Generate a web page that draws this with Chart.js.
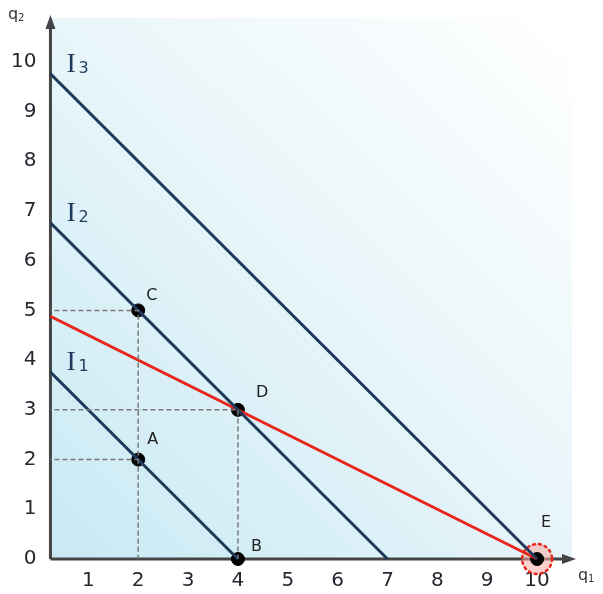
<!DOCTYPE html>
<html lang="en">
<head>
    <meta charset="UTF-8">
    <title>Indifference curves</title>
    <script src="https://cdn.jsdelivr.net/npm/chart.js"></script>
    <style>
        html, body { margin: 0; padding: 0; background: #fff; }
        #wrap { width: 603px; height: 594px; }
    </style>
</head>
<body>
    <div id="wrap"><canvas id="chart"></canvas></div>

    <script>
        // indifference lines q1 + q2 = k
        const indiffLevels = [4, 7, 10];
        const indiffNames = ['1', '2', '3'];
        // budget line from (0,5) to (10,0)
        const budgetLine = [{x: 0, y: 5}, {x: 10, y: 0}];
        // marked points
        const pointNames = ['A', 'B', 'C', 'D', 'E'];
        const pointX = [2, 4, 2, 4, 10];
        const pointY = [2, 0, 5, 3, 0];
        // dashed guide lines
        const guideC = [{x: 0, y: 5}, {x: 2, y: 5}, {x: 2, y: 0}];
        const guideD = [{x: 0, y: 3}, {x: 4, y: 3}, {x: 4, y: 0}];
        const guideA = [{x: 0, y: 2}, {x: 2, y: 2}];
        const xTicks = [1, 2, 3, 4, 5, 6, 7, 8, 9, 10];
        const yTicks = [0, 1, 2, 3, 4, 5, 6, 7, 8, 9, 10];

        const navy = '#1d3a5a';
        const red = '#e8261c';
        const tickFont = {family: 'DejaVu Sans', size: 20};
        const tickColor = '#2b2430';
        // lines are cut at the drawn y axis, points are not
        const lineClip = {left: 0, top: false, right: false, bottom: false};

        function guide(data) {
            return {data: data, showLine: true, borderColor: '#7a7a7a', borderWidth: 1.5,
                borderDash: [5, 3], pointRadius: 0, clip: lineClip};
        }

        const datasets = [guide(guideC), guide(guideD), guide(guideA)];
        indiffLevels.forEach(k => {
            datasets.push({data: [{x: 0, y: k}, {x: k, y: 0}], showLine: true,
                borderColor: navy, borderWidth: 3, pointRadius: 0, clip: lineClip});
        });
        datasets.push({data: budgetLine, showLine: true, borderColor: red,
            borderWidth: 3, pointRadius: 0, clip: lineClip});
        datasets.push({data: pointX.map((x, i) => ({x: x, y: pointY[i]})), showLine: false,
            pointRadius: 6.5, backgroundColor: '#000', borderColor: '#000', clip: false});

        const decor = {
            id: 'decor',
            beforeDraw(chart) {
                const {ctx, chartArea: a} = chart;
                const g = ctx.createLinearGradient(a.left, a.bottom, a.right, a.top);
                g.addColorStop(0, '#c8e9f4');
                g.addColorStop(0.55, '#eaf6fa');
                g.addColorStop(1, '#ffffff');
                ctx.save();
                ctx.fillStyle = g;
                ctx.fillRect(a.left, a.top - 8, a.right - a.left, a.bottom - a.top + 8);
                ctx.restore();
            },
            beforeDatasetsDraw(chart) {
                const {ctx, chartArea: a, scales} = chart;
                const x0 = a.left;
                const y0 = scales.y.getPixelForValue(0);
                ctx.save();
                ctx.strokeStyle = '#444';
                ctx.fillStyle = '#444';
                ctx.lineWidth = 3;
                ctx.beginPath();
                ctx.moveTo(x0, y0);
                ctx.lineTo(x0, a.top);
                ctx.moveTo(x0, y0);
                ctx.lineTo(a.right - 6, y0);
                ctx.stroke();
                // arrow heads
                ctx.beginPath();
                ctx.moveTo(x0, a.top - 11);
                ctx.lineTo(x0 - 5, a.top + 3);
                ctx.lineTo(x0 + 5, a.top + 3);
                ctx.closePath();
                ctx.fill();
                ctx.beginPath();
                ctx.moveTo(a.right + 4, y0);
                ctx.lineTo(a.right - 10, y0 - 5);
                ctx.lineTo(a.right - 10, y0 + 5);
                ctx.closePath();
                ctx.fill();
                // highlight around E
                const ex = scales.x.getPixelForValue(pointX[4]);
                const ey = scales.y.getPixelForValue(pointY[4]);
                ctx.beginPath();
                ctx.arc(ex, ey, 15, 0, Math.PI * 2);
                ctx.fillStyle = 'rgba(250,170,160,0.55)';
                ctx.fill();
                ctx.setLineDash([2, 4]);
                ctx.lineCap = 'round';
                ctx.lineWidth = 2.5;
                ctx.strokeStyle = red;
                ctx.stroke();
                ctx.restore();
            },
            afterDatasetsDraw(chart) {
                const {ctx, chartArea: a, scales} = chart;
                ctx.save();
                ctx.textBaseline = 'middle';
                // point labels
                ctx.fillStyle = '#222';
                ctx.font = '16px "DejaVu Sans"';
                ctx.textAlign = 'left';
                const offs = [[9, -20], [13, -12], [8, -15], [18, -17], [4, -36]];
                pointNames.forEach((n, i) => {
                    const px = scales.x.getPixelForValue(pointX[i]);
                    const py = scales.y.getPixelForValue(pointY[i]);
                    ctx.fillText(n, px + offs[i][0], py + offs[i][1]);
                });
                // curve labels
                ctx.textBaseline = 'alphabetic';
                indiffLevels.forEach((k, i) => {
                    const px = a.left + 16;
                    const py = scales.y.getPixelForValue(k) + 10;
                    ctx.fillStyle = navy;
                    ctx.font = '28px "Liberation Serif"';
                    ctx.fillText('I', px, py);
                    ctx.font = '16px "DejaVu Sans"';
                    ctx.fillText(indiffNames[i], px + 12, py + 1);
                });
                // axis names
                ctx.textBaseline = 'middle';
                ctx.fillStyle = '#333';
                ctx.font = '16px "DejaVu Sans"';
                ctx.fillText('q', 8, 15);
                ctx.font = '10px "DejaVu Sans"';
                ctx.fillText('2', 18, 18);
                ctx.font = '16px "DejaVu Sans"';
                ctx.fillText('q', a.right + 6, scales.y.getPixelForValue(0) + 17);
                ctx.font = '10px "DejaVu Sans"';
                ctx.fillText('1', a.right + 16, scales.y.getPixelForValue(0) + 20);
                ctx.restore();
            }
        };

        new Chart(document.getElementById('chart'), {
            type: 'scatter',
            data: {datasets: datasets},
            options: {
                responsive: true,
                maintainAspectRatio: false,
                animation: false,
                layout: {padding: {left: -3, right: 31, top: 11, bottom: -9}},
                plugins: {legend: {display: false}, tooltip: {enabled: false}},
                scales: {
                    x: {
                        type: 'linear', min: 0.24, max: 10.7,
                        afterBuildTicks: s => { s.ticks = xTicks.map(v => ({value: v})); },
                        grid: {display: false, drawTicks: false},
                        border: {display: false},
                        ticks: {padding: 10, font: tickFont, color: tickColor, maxRotation: 0, autoSkip: false}
                    },
                    y: {
                        type: 'linear', min: 0, max: 10.72,
                        afterBuildTicks: s => { s.ticks = yTicks.map(v => ({value: v})); },
                        grid: {display: false, drawTicks: false},
                        border: {display: false},
                        ticks: {padding: 14, font: tickFont, color: tickColor, autoSkip: false}
                    }
                }
            },
            plugins: [decor]
        });
    </script>
</body>
</html>
